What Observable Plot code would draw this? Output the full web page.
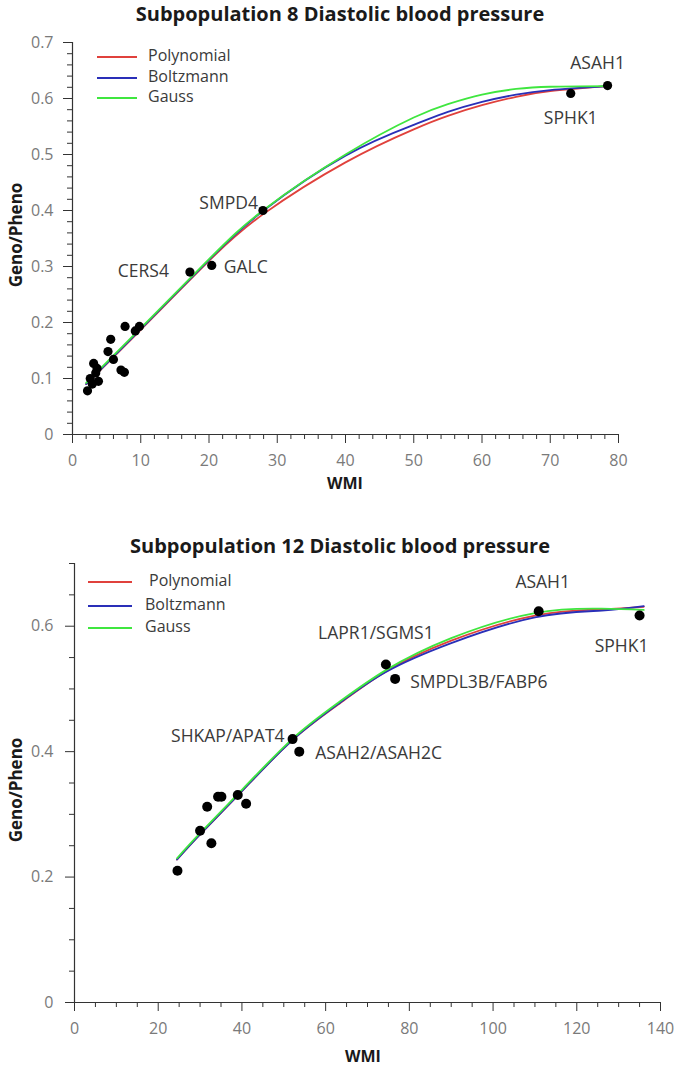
<!DOCTYPE html>
<html><head><meta charset="utf-8">
<script src="https://cdn.jsdelivr.net/npm/d3@7"></script>
<script src="https://cdn.jsdelivr.net/npm/@observablehq/plot@0.6"></script>
<style>body{margin:0;background:#fff;} svg{display:block;overflow:visible;}</style>
</head><body><div id="c"></div>
<script>
const fitNames = ["Polynomial", "Boltzmann", "Gauss"];
const fitColors = ["#e0413c", "#2a2fb8", "#3fe63f"];

// Subpopulation 8
const sp8Title = "Subpopulation 8 Diastolic blood pressure";
const sp8WMI = [2.2, 2.6, 2.9, 3.1, 3.4, 3.6, 3.8, 5.2, 5.6, 6.0, 7.1, 7.6, 7.7, 9.2, 9.8, 17.2, 20.4, 27.9, 73.0, 78.4];
const sp8GP  = [0.078, 0.100, 0.090, 0.127, 0.110, 0.118, 0.095, 0.148, 0.170, 0.134, 0.115, 0.111, 0.193, 0.185, 0.193, 0.290, 0.302, 0.400, 0.609, 0.623];
const sp8Gene = ["", "", "", "", "", "", "", "", "", "", "", "", "", "", "", "CERS4", "GALC", "SMPD4", "SPHK1", "ASAH1"];
const sp8CurveWMI = [2, 10, 20, 28, 40, 50, 55, 60, 65, 70, 78.4];
const sp8Poly  = [0.090, 0.187, 0.310, 0.394, 0.486, 0.545, 0.569, 0.588, 0.603, 0.613, 0.622];
const sp8Boltz = [0.090, 0.188, 0.312, 0.400, 0.498, 0.553, 0.576, 0.594, 0.607, 0.615, 0.622];
const sp8Gauss = [0.092, 0.190, 0.313, 0.401, 0.500, 0.566, 0.590, 0.607, 0.617, 0.621, 0.622];
const sp8XTicks = [0, 10, 20, 30, 40, 50, 60, 70, 80];
const sp8YTicks = [0, 0.1, 0.2, 0.3, 0.4, 0.5, 0.6, 0.7];

// Subpopulation 12
const sp12Title = "Subpopulation 12 Diastolic blood pressure";
const sp12WMI = [24.6, 30.0, 31.7, 32.7, 34.3, 35.1, 39.0, 41.0, 52.1, 53.7, 74.4, 76.6, 110.9, 135.0];
const sp12GP  = [0.210, 0.274, 0.312, 0.254, 0.328, 0.328, 0.331, 0.317, 0.420, 0.400, 0.539, 0.516, 0.624, 0.617];
const sp12Gene = ["", "", "", "", "", "", "", "", "SHKAP/APAT4", "ASAH2/ASAH2C", "LAPR1/SGMS1", "SMPDL3B/FABP6", "ASAH1", "SPHK1"];
const sp12CurveWMI = [24.5, 30, 40, 52, 63, 74.4, 90, 110, 126, 136];
const sp12Poly  = [0.228, 0.268, 0.337, 0.418, 0.475, 0.528, 0.577, 0.617, 0.627, 0.631];
const sp12Boltz = [0.228, 0.268, 0.337, 0.418, 0.476, 0.527, 0.573, 0.614, 0.625, 0.632];
const sp12Gauss = [0.230, 0.270, 0.339, 0.420, 0.478, 0.530, 0.581, 0.621, 0.628, 0.626];
const sp12XTicks = [0, 20, 40, 60, 80, 100, 120, 140];
const sp12YTicks = [0, 0.2, 0.4, 0.6];

const FONT = "'Open Sans', 'Noto Sans', sans-serif";
const fmt = v => String(+v.toFixed(2));

function chart(cfg) {
  const pts = cfg.x.map((x, i) => ({x, y: cfg.y[i], gene: cfg.gene[i]}));
  const curves = fitNames.flatMap((name, k) =>
    cfg.curveX.map((x, i) => ({x, y: cfg.curves[k][i], fit: name})));
  const labelMarks = Object.entries(cfg.place).map(([g, p]) =>
    Plot.text(pts.filter(d => d.gene === g), {
      x: "x", y: "y", text: "gene", dx: p[0], dy: p[1], textAnchor: p[2],
      fontSize: 17.5, fill: "#3a3a3a"
    }));
  const svg = Plot.plot({
    width: 680, height: cfg.height,
    marginTop: cfg.m[0], marginRight: cfg.m[1], marginBottom: cfg.m[2], marginLeft: cfg.m[3],
    style: {fontFamily: FONT, fontSize: "16px", background: "white", overflow: "visible"},
    x: {domain: cfg.xDomain, label: null},
    y: {domain: cfg.yDomain, label: null},
    color: {domain: fitNames, range: fitColors},
    marks: [
      Plot.axisX({ticks: cfg.xMinor, tickSize: 5, tickFormat: () => "", stroke: "#333", label: null}),
      Plot.axisX({ticks: cfg.xTicks, tickSize: 9, tickPadding: 11, tickFormat: fmt, fill: "#7a7a7a", stroke: "#333", label: null}),
      Plot.axisY({ticks: cfg.yMinor, tickSize: 5, tickFormat: () => "", stroke: "#333", label: null}),
      Plot.axisY({ticks: cfg.yTicks, tickSize: 9, tickPadding: cfg.yPad, tickFormat: fmt, fill: "#7a7a7a", stroke: "#333", label: null}),
      Plot.ruleY([0], {stroke: "#333", strokeWidth: 1.2}),
      Plot.ruleX([0], {stroke: "#333", strokeWidth: 1.2}),
      Plot.line(curves, {x: "x", y: "y", z: "fit", stroke: "fit", strokeWidth: 1.8, curve: "natural"}),
      Plot.dot(pts, {x: "x", y: "y", r: cfg.r, fill: "black"}),
      ...labelMarks
    ]
  });
  const s = d3.select(svg);
  s.append("text").attr("x", 340).attr("y", cfg.titleY).attr("text-anchor", "middle")
    .attr("dominant-baseline", "middle").attr("font-family", FONT).attr("font-weight", "bold")
    .attr("font-size", 20).attr("fill", "#1a1a1a").text(cfg.title);
  s.append("text").attr("x", cfg.wmiX).attr("y", cfg.wmiY).attr("text-anchor", "middle")
    .attr("dominant-baseline", "middle").attr("font-family", FONT).attr("font-weight", "bold")
    .attr("font-size", 16).attr("fill", "#1a1a1a").text("WMI");
  s.append("text").attr("transform", `translate(17,${cfg.gpY}) rotate(-90)`).attr("text-anchor", "middle")
    .attr("dominant-baseline", "middle").attr("font-family", FONT).attr("font-weight", "bold")
    .attr("font-size", 17).attr("fill", "#1a1a1a").text("Geno/Pheno");
  const lg = s.append("g");
  fitNames.forEach((n, i) => {
    const y = cfg.leg.y[i];
    lg.append("line").attr("x1", cfg.leg.x1).attr("x2", cfg.leg.x2).attr("y1", y).attr("y2", y)
      .attr("stroke", fitColors[i]).attr("stroke-width", 2.2);
    lg.append("text").attr("x", cfg.leg.tx + (i === 0 ? cfg.leg.firstShift : 0)).attr("y", y)
      .attr("text-anchor", "start")
      .attr("dominant-baseline", "middle").attr("font-family", FONT).attr("font-size", 16)
      .attr("fill", "#3a3a3a").text(n);
  });
  return svg;
}

const root = document.getElementById("c");
root.appendChild(chart({
  height: 530, m: [42, 62, 96, 72],
  xDomain: [0, 80], yDomain: [0, 0.7],
  xTicks: sp8XTicks, yTicks: sp8YTicks,
  xMinor: d3.range(0, 81, 2).filter(v => v % 10 !== 0),
  yMinor: d3.range(0, 36).map(i => i * 0.02).filter((v, i) => i % 5 !== 0),
  yPad: 10, r: 4.6,
  x: sp8WMI, y: sp8GP, gene: sp8Gene,
  curveX: sp8CurveWMI, curves: [sp8Poly, sp8Boltz, sp8Gauss],
  place: {
    "ASAH1": [-10, -22, "middle"], "SPHK1": [0, 25, "middle"],
    "SMPD4": [-5, -7, "end"], "CERS4": [-21, -1, "end"], "GALC": [12, 2, "start"]
  },
  title: sp8Title, titleY: 16, wmiX: 345, wmiY: 485, gpY: 235,
  leg: {x1: 97, x2: 137, y: [57, 78, 98], tx: 148, firstShift: 0}
}));
root.appendChild(chart({
  height: 540, m: [33, 20, 68, 74],
  xDomain: [0, 140], yDomain: [0, 0.7],
  xTicks: sp12XTicks, yTicks: sp12YTicks,
  xMinor: d3.range(0, 141, 5).filter(v => v % 20 !== 0),
  yMinor: d3.range(0, 15).map(i => i * 0.05).filter((v, i) => i % 4 !== 0),
  yPad: 12, r: 5,
  x: sp12WMI, y: sp12GP, gene: sp12Gene,
  curveX: sp12CurveWMI, curves: [sp12Poly, sp12Boltz, sp12Gauss],
  place: {
    "ASAH1": [4, -29, "middle"], "LAPR1/SGMS1": [-10, -31, "middle"],
    "SMPDL3B/FABP6": [15, 3, "start"], "SPHK1": [-18, 31, "middle"],
    "SHKAP/APAT4": [-8, -3, "end"], "ASAH2/ASAH2C": [16, 2, "start"]
  },
  title: sp12Title, titleY: 18, wmiX: 363, wmiY: 528, gpY: 260,
  leg: {x1: 88, x2: 132, y: [52, 76, 98], tx: 145, firstShift: 4}
}));
</script>
</body></html>
